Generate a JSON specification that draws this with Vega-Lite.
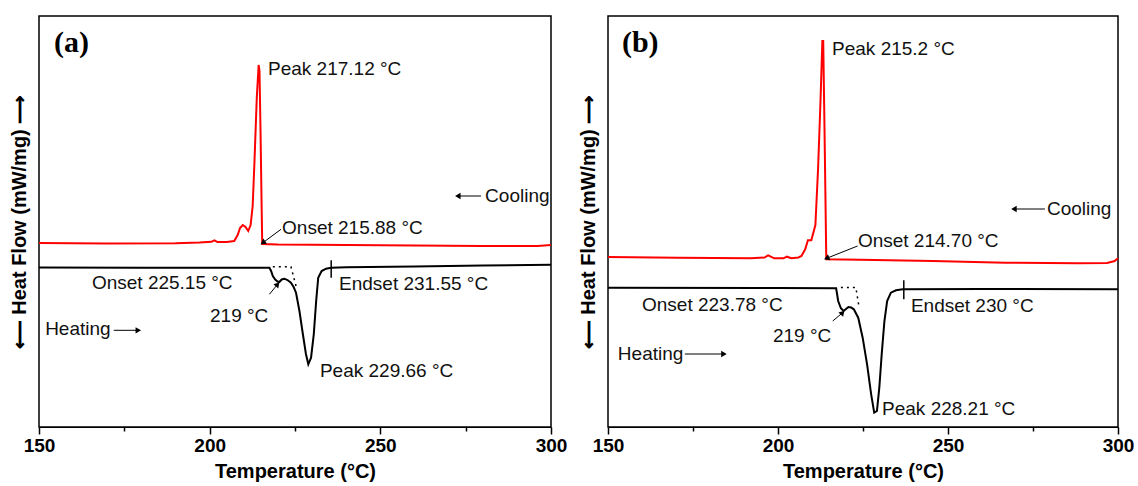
{
  "$schema": "https://vega.github.io/schema/vega-lite/v6.json",
  "padding": {"left": 8, "top": 15, "right": 5, "bottom": 5},
  "spacing": 9,
  "config": {
    "view": {"stroke": "#000", "strokeWidth": 1.5},
    "font": "Liberation Sans",
    "text": {"font": "Liberation Sans", "fontSize": 19, "color": "#111", "align": "left", "baseline": "middle"}
  },
  "datasets": {
    "dsc": [
      {"p":"a","k":"cool","T":150,"v":184},{"p":"a","k":"cool","T":170,"v":183.5},{"p":"a","k":"cool","T":190,"v":183.7},{"p":"a","k":"cool","T":197,"v":184.5},{"p":"a","k":"cool","T":200.5,"v":185.2},{"p":"a","k":"cool","T":201.4,"v":186.7},{"p":"a","k":"cool","T":202.3,"v":185},{"p":"a","k":"cool","T":205,"v":185},{"p":"a","k":"cool","T":207.2,"v":186},{"p":"a","k":"cool","T":208.2,"v":192},{"p":"a","k":"cool","T":208.9,"v":199},{"p":"a","k":"cool","T":209.7,"v":202},{"p":"a","k":"cool","T":210.5,"v":200},{"p":"a","k":"cool","T":211.3,"v":196},{"p":"a","k":"cool","T":212.0,"v":202},{"p":"a","k":"cool","T":212.6,"v":221},{"p":"a","k":"cool","T":213.1,"v":263},{"p":"a","k":"cool","T":213.8,"v":329},{"p":"a","k":"cool","T":214.35,"v":362},{"p":"a","k":"cool","T":214.6,"v":356},{"p":"a","k":"cool","T":214.9,"v":296},{"p":"a","k":"cool","T":215.2,"v":226},{"p":"a","k":"cool","T":215.4,"v":183},{"p":"a","k":"cool","T":220,"v":182.5},{"p":"a","k":"cool","T":240,"v":182},{"p":"a","k":"cool","T":260,"v":181.5},{"p":"a","k":"cool","T":280,"v":181},{"p":"a","k":"cool","T":296,"v":181},{"p":"a","k":"cool","T":300,"v":182},
      {"p":"a","k":"heat","T":150,"v":159.5},{"p":"a","k":"heat","T":180,"v":159.3},{"p":"a","k":"heat","T":210,"v":159.3},{"p":"a","k":"heat","T":217.5,"v":159.3},{"p":"a","k":"heat","T":218.0,"v":156},{"p":"a","k":"heat","T":218.5,"v":151},{"p":"a","k":"heat","T":219.2,"v":147.5},{"p":"a","k":"heat","T":219.9,"v":145.5},{"p":"a","k":"heat","T":220.4,"v":145},{"p":"a","k":"heat","T":221.1,"v":147.5},{"p":"a","k":"heat","T":221.9,"v":148.3},{"p":"a","k":"heat","T":222.8,"v":147},{"p":"a","k":"heat","T":223.8,"v":144.3},{"p":"a","k":"heat","T":224.6,"v":140},{"p":"a","k":"heat","T":225.3,"v":134.3},{"p":"a","k":"heat","T":226.3,"v":116},{"p":"a","k":"heat","T":227.3,"v":93},{"p":"a","k":"heat","T":228.2,"v":73},{"p":"a","k":"heat","T":228.9,"v":62.7},{"p":"a","k":"heat","T":229.7,"v":69.3},{"p":"a","k":"heat","T":230.5,"v":92.7},{"p":"a","k":"heat","T":231.2,"v":126},{"p":"a","k":"heat","T":231.8,"v":149.3},{"p":"a","k":"heat","T":232.8,"v":156},{"p":"a","k":"heat","T":234.1,"v":158.3},{"p":"a","k":"heat","T":235.6,"v":159.3},{"p":"a","k":"heat","T":240,"v":159.7},{"p":"a","k":"heat","T":260,"v":160.5},{"p":"a","k":"heat","T":280,"v":161.5},{"p":"a","k":"heat","T":300,"v":162.3},
      {"p":"a","k":"dot","T":218.5,"v":160.3},{"p":"a","k":"dot","T":223.8,"v":160.3},{"p":"a","k":"dot","T":225.3,"v":141},
      {"p":"a","k":"tick","T":235.6,"v":166.7,"v2":149.3},
      {"p":"a","k":"arrow","d":"left","T":279.5,"v":231,"T2":272.7,"v2":231},
      {"p":"a","k":"arrow","d":"right","T":171.9,"v":96.7,"T2":179.1,"v2":96.7},
      {"p":"a","k":"arrow","d":"onset","T":220.9,"v":197.7,"T2":215.6,"v2":184.3},
      {"p":"a","k":"arrow","d":"n219","T":217.5,"v":132.7,"T2":219.9,"v2":142.7},
      {"p":"a","k":"label","T":217.1,"v":358,"txt":"Peak 217.12 °C"},
      {"p":"a","k":"label","T":280.7,"v":231,"txt":"Cooling"},
      {"p":"a","k":"label","T":221.2,"v":199,"txt":"Onset 215.88 °C"},
      {"p":"a","k":"label","T":165.5,"v":144,"txt":"Onset 225.15 °C"},
      {"p":"a","k":"label","T":237.9,"v":143,"txt":"Endset 231.55 °C"},
      {"p":"a","k":"label","T":200.1,"v":111,"txt":"219 °C"},
      {"p":"a","k":"label","T":151.8,"v":98,"txt":"Heating"},
      {"p":"a","k":"label","T":232.3,"v":56,"txt":"Peak 229.66 °C"},
      {"p":"a","k":"tag","T":154.4,"v":384,"txt":"(a)"},

      {"p":"b","k":"cool","T":150,"v":170},{"p":"b","k":"cool","T":170.6,"v":169.3},{"p":"b","k":"cool","T":192,"v":168.7},{"p":"b","k":"cool","T":196,"v":169.5},{"p":"b","k":"cool","T":197.1,"v":171.7},{"p":"b","k":"cool","T":198.9,"v":168.7},{"p":"b","k":"cool","T":201.6,"v":168.7},{"p":"b","k":"cool","T":202.6,"v":170.3},{"p":"b","k":"cool","T":203.9,"v":168.7},{"p":"b","k":"cool","T":206.0,"v":169.5},{"p":"b","k":"cool","T":206.9,"v":171},{"p":"b","k":"cool","T":208.0,"v":177.7},{"p":"b","k":"cool","T":208.8,"v":186.7},{"p":"b","k":"cool","T":209.8,"v":186.7},{"p":"b","k":"cool","T":211.0,"v":202},{"p":"b","k":"cool","T":211.8,"v":259.3},{"p":"b","k":"cool","T":212.5,"v":326},{"p":"b","k":"cool","T":213.05,"v":386},{"p":"b","k":"cool","T":213.3,"v":386},{"p":"b","k":"cool","T":213.7,"v":293},{"p":"b","k":"cool","T":214.2,"v":167.7},{"p":"b","k":"cool","T":224.1,"v":167.3},{"p":"b","k":"cool","T":245.5,"v":166},{"p":"b","k":"cool","T":266.9,"v":164.3},{"p":"b","k":"cool","T":288.3,"v":163.7},{"p":"b","k":"cool","T":296.8,"v":164},{"p":"b","k":"cool","T":299,"v":166},{"p":"b","k":"cool","T":300,"v":168.7},
      {"p":"b","k":"heat","T":150,"v":139.3},{"p":"b","k":"heat","T":200,"v":139},{"p":"b","k":"heat","T":217.1,"v":138.7},{"p":"b","k":"heat","T":217.7,"v":126},{"p":"b","k":"heat","T":218.5,"v":118.7},{"p":"b","k":"heat","T":219.3,"v":116},{"p":"b","k":"heat","T":220.0,"v":118},{"p":"b","k":"heat","T":220.7,"v":120},{"p":"b","k":"heat","T":221.5,"v":119.5},{"p":"b","k":"heat","T":222.3,"v":117.7},{"p":"b","k":"heat","T":223.6,"v":109.3},{"p":"b","k":"heat","T":224.9,"v":89.3},{"p":"b","k":"heat","T":226.2,"v":62.7},{"p":"b","k":"heat","T":227.4,"v":32.7},{"p":"b","k":"heat","T":228.3,"v":14.3},{"p":"b","k":"heat","T":229.1,"v":16},{"p":"b","k":"heat","T":229.8,"v":39.3},{"p":"b","k":"heat","T":230.5,"v":72.7},{"p":"b","k":"heat","T":231.3,"v":106},{"p":"b","k":"heat","T":232.1,"v":126},{"p":"b","k":"heat","T":233.2,"v":134.3},{"p":"b","k":"heat","T":234.7,"v":136.7},{"p":"b","k":"heat","T":236.7,"v":137.7},{"p":"b","k":"heat","T":260,"v":138},{"p":"b","k":"heat","T":300,"v":137.7},
      {"p":"b","k":"dot","T":218.5,"v":139.5},{"p":"b","k":"dot","T":222.9,"v":139.5},{"p":"b","k":"dot","T":223.9,"v":118.7},
      {"p":"b","k":"tick","T":237.0,"v":146.7,"v2":127.7},
      {"p":"b","k":"arrow","d":"left","T":278.5,"v":218,"T2":269.4,"v2":218},
      {"p":"b","k":"arrow","d":"right","T":172.6,"v":73,"T2":184.1,"v2":73},
      {"p":"b","k":"arrow","d":"onset","T":223.4,"v":181,"T2":214.3,"v2":168.7},
      {"p":"b","k":"arrow","d":"n219","T":216.1,"v":106,"T2":219.0,"v2":114.3},
      {"p":"b","k":"label","T":215.9,"v":378,"txt":"Peak 215.2 °C"},
      {"p":"b","k":"label","T":279.1,"v":218,"txt":"Cooling"},
      {"p":"b","k":"label","T":223.5,"v":186,"txt":"Onset 214.70 °C"},
      {"p":"b","k":"label","T":160,"v":122,"txt":"Onset 223.78 °C"},
      {"p":"b","k":"label","T":239.1,"v":121,"txt":"Endset 230 °C"},
      {"p":"b","k":"label","T":198.5,"v":91,"txt":"219 °C"},
      {"p":"b","k":"label","T":152.9,"v":73,"txt":"Heating"},
      {"p":"b","k":"label","T":230.6,"v":18,"txt":"Peak 228.21 °C"},
      {"p":"b","k":"tag","T":154.1,"v":384,"txt":"(b)"}
    ]
  },
  "data": {"name": "dsc"},
  "hconcat": [
    {
      "width": 512, "height": 411,
      "transform": [{"filter": "datum.p == 'a'"}],
      "encoding": {
        "x": {"field": "T", "type": "quantitative", "scale": {"domain": [150, 300], "nice": false, "zero": false},
          "axis": {"title": "Temperature (°C)", "values": [150,175,200,225,250,275,300], "labelExpr": "datum.value % 50 === 0 ? datum.label : ''", "tickSize": {"condition": {"test": "datum.value % 50 === 0", "value": 7}, "value": 4}, "labelFontSize": 19, "labelFontWeight": "bold", "titleFontSize": 20, "titleFontWeight": "bold", "labelPadding": 2, "titlePadding": 6, "domainColor": "#000", "tickColor": "#000", "tickWidth": 1.5, "labelColor": "#000", "titleColor": "#000", "grid": false, "labelFlush": false, "labelOverlap": false}},
        "y": {"field": "v", "type": "quantitative", "scale": {"domain": [0, 411], "nice": false, "zero": false},
          "axis": {"title": "⟵ Heat Flow (mW/mg) ⟶", "labels": false, "ticks": false, "domain": false, "grid": false, "titleFontSize": 20, "titleFontWeight": "bold", "titlePadding": 10, "titleColor": "#000"}}
      },
      "layer": [
        {"transform": [{"filter": "datum.k == 'cool'"}], "mark": {"type": "line", "color": "#ff0000", "strokeWidth": 2}, "encoding": {}},
        {"transform": [{"filter": "datum.k == 'heat'"}], "mark": {"type": "line", "color": "#000", "strokeWidth": 2}, "encoding": {}},
        {"transform": [{"filter": "datum.k == 'dot'"}], "mark": {"type": "line", "color": "#000", "strokeWidth": 1.5, "strokeDash": [2, 4]}, "encoding": {}},
        {"transform": [{"filter": "datum.k == 'tick'"}], "mark": {"type": "rule", "color": "#000", "strokeWidth": 1.5}, "encoding": {"y2": {"field": "v2"}}},
        {"transform": [{"filter": "datum.k == 'arrow'"}], "mark": {"type": "rule", "color": "#000", "strokeWidth": 1}, "encoding": {"x2": {"field": "T2"}, "y2": {"field": "v2"}}},
        {"transform": [{"filter": "datum.d == 'left'"}], "mark": {"type": "point", "shape": "triangle-right", "filled": true, "color": "#000", "opacity": 1, "size": 40, "angle": 180}, "encoding": {"x": {"field": "T2", "type": "quantitative"}, "y": {"field": "v2", "type": "quantitative"}}},
        {"transform": [{"filter": "datum.d == 'right'"}], "mark": {"type": "point", "shape": "triangle-right", "filled": true, "color": "#000", "opacity": 1, "size": 40, "angle": 0}, "encoding": {"x": {"field": "T2", "type": "quantitative"}, "y": {"field": "v2", "type": "quantitative"}}},
        {"transform": [{"filter": "datum.d == 'onset'"}], "mark": {"type": "point", "shape": "triangle-right", "filled": true, "color": "#000", "opacity": 1, "size": 40, "angle": 145}, "encoding": {"x": {"field": "T2", "type": "quantitative"}, "y": {"field": "v2", "type": "quantitative"}}},
        {"transform": [{"filter": "datum.d == 'n219'"}], "mark": {"type": "point", "shape": "triangle-right", "filled": true, "color": "#000", "opacity": 1, "size": 40, "angle": 310}, "encoding": {"x": {"field": "T2", "type": "quantitative"}, "y": {"field": "v2", "type": "quantitative"}}},
        {"transform": [{"filter": "datum.k == 'label'"}], "mark": {"type": "text"}, "encoding": {"text": {"field": "txt"}}},
        {"transform": [{"filter": "datum.k == 'tag'"}], "mark": {"type": "text", "font": "Liberation Serif", "fontWeight": "bold", "fontSize": 30, "color": "#000"}, "encoding": {"text": {"field": "txt"}}}
      ]
    },
    {
      "width": 510, "height": 411,
      "transform": [{"filter": "datum.p == 'b'"}],
      "encoding": {
        "x": {"field": "T", "type": "quantitative", "scale": {"domain": [150, 300], "nice": false, "zero": false},
          "axis": {"title": "Temperature (°C)", "values": [150,175,200,225,250,275,300], "labelExpr": "datum.value % 50 === 0 ? datum.label : ''", "tickSize": {"condition": {"test": "datum.value % 50 === 0", "value": 7}, "value": 4}, "labelFontSize": 19, "labelFontWeight": "bold", "titleFontSize": 20, "titleFontWeight": "bold", "labelPadding": 2, "titlePadding": 6, "domainColor": "#000", "tickColor": "#000", "tickWidth": 1.5, "labelColor": "#000", "titleColor": "#000", "grid": false, "labelFlush": false, "labelOverlap": false}},
        "y": {"field": "v", "type": "quantitative", "scale": {"domain": [0, 411], "nice": false, "zero": false},
          "axis": {"title": "⟵ Heat Flow (mW/mg) ⟶", "labels": false, "ticks": false, "domain": false, "grid": false, "titleFontSize": 20, "titleFontWeight": "bold", "titlePadding": 10, "titleColor": "#000"}}
      },
      "layer": [
        {"transform": [{"filter": "datum.k == 'cool'"}], "mark": {"type": "line", "color": "#ff0000", "strokeWidth": 2}, "encoding": {}},
        {"transform": [{"filter": "datum.k == 'heat'"}], "mark": {"type": "line", "color": "#000", "strokeWidth": 2}, "encoding": {}},
        {"transform": [{"filter": "datum.k == 'dot'"}], "mark": {"type": "line", "color": "#000", "strokeWidth": 1.5, "strokeDash": [2, 4]}, "encoding": {}},
        {"transform": [{"filter": "datum.k == 'tick'"}], "mark": {"type": "rule", "color": "#000", "strokeWidth": 1.5}, "encoding": {"y2": {"field": "v2"}}},
        {"transform": [{"filter": "datum.k == 'arrow'"}], "mark": {"type": "rule", "color": "#000", "strokeWidth": 1}, "encoding": {"x2": {"field": "T2"}, "y2": {"field": "v2"}}},
        {"transform": [{"filter": "datum.d == 'left'"}], "mark": {"type": "point", "shape": "triangle-right", "filled": true, "color": "#000", "opacity": 1, "size": 40, "angle": 180}, "encoding": {"x": {"field": "T2", "type": "quantitative"}, "y": {"field": "v2", "type": "quantitative"}}},
        {"transform": [{"filter": "datum.d == 'right'"}], "mark": {"type": "point", "shape": "triangle-right", "filled": true, "color": "#000", "opacity": 1, "size": 40, "angle": 0}, "encoding": {"x": {"field": "T2", "type": "quantitative"}, "y": {"field": "v2", "type": "quantitative"}}},
        {"transform": [{"filter": "datum.d == 'onset'"}], "mark": {"type": "point", "shape": "triangle-right", "filled": true, "color": "#000", "opacity": 1, "size": 40, "angle": 158}, "encoding": {"x": {"field": "T2", "type": "quantitative"}, "y": {"field": "v2", "type": "quantitative"}}},
        {"transform": [{"filter": "datum.d == 'n219'"}], "mark": {"type": "point", "shape": "triangle-right", "filled": true, "color": "#000", "opacity": 1, "size": 40, "angle": 312}, "encoding": {"x": {"field": "T2", "type": "quantitative"}, "y": {"field": "v2", "type": "quantitative"}}},
        {"transform": [{"filter": "datum.k == 'label'"}], "mark": {"type": "text"}, "encoding": {"text": {"field": "txt"}}},
        {"transform": [{"filter": "datum.k == 'tag'"}], "mark": {"type": "text", "font": "Liberation Serif", "fontWeight": "bold", "fontSize": 30, "color": "#000"}, "encoding": {"text": {"field": "txt"}}}
      ]
    }
  ]
}
